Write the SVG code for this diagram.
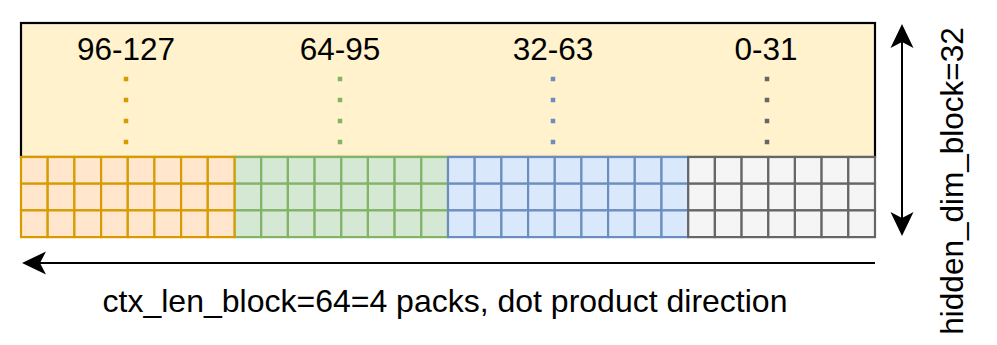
<svg xmlns="http://www.w3.org/2000/svg" width="997" height="345" viewBox="0 0 997 345">
  <style>
    .lbl { font-family: "Liberation Sans", Arial, sans-serif; font-size: 31.5px; fill: #000; }
    .big { font-size: 32px; }
    .mid { text-anchor: middle; }
    .cellO { fill: #ffe6cc; stroke: #d79b00; stroke-width: 2.2; }
    .cellG { fill: #d5e8d4; stroke: #82b366; stroke-width: 2.2; }
    .cellB { fill: #dae8fc; stroke: #6c8ebf; stroke-width: 2.2; }
    .cellY { fill: #f5f5f5; stroke: #666666; stroke-width: 2.2; }
    .dots { fill: none; stroke-width: 4.5; stroke-dasharray: 4.5 16.5; }
    .arrow { fill: none; stroke: #000; stroke-width: 2; }
  </style>
  <defs>
    <marker id="ah" markerUnits="userSpaceOnUse" markerWidth="24" markerHeight="24" viewBox="0 0 24 24" refX="6" refY="12" orient="auto-start-reverse">
      <path d="M24,12 L0,0.5 L6,12 L0,23.5 Z" fill="#000"/>
    </marker>
    <rect id="c" width="26.69" height="26.7"/>
  </defs>

  <rect width="997" height="345" fill="#fff"/>

  <g id="header-box">
    <rect x="21" y="23" width="854" height="134" fill="#fff2cc" stroke="#000" stroke-width="2.2"/>
  </g>

  <g id="label-96-127"><text class="lbl mid" x="126" y="60">96-127</text></g>
  <g id="label-64-95"><text class="lbl mid" x="340" y="60">64-95</text></g>
  <g id="label-32-63"><text class="lbl mid" x="553" y="60">32-63</text></g>
  <g id="label-0-31"><text class="lbl mid" x="766" y="60">0-31</text></g>

  <g id="pack-64-95">
    <g class="cellG">
      <use href="#c" x="234.5" y="157"/><use href="#c" x="261.2" y="157"/><use href="#c" x="287.9" y="157"/><use href="#c" x="314.6" y="157"/><use href="#c" x="341.3" y="157"/><use href="#c" x="367.9" y="157"/><use href="#c" x="394.6" y="157"/><use href="#c" x="421.3" y="157"/>
      <use href="#c" x="234.5" y="183.7"/><use href="#c" x="261.2" y="183.7"/><use href="#c" x="287.9" y="183.7"/><use href="#c" x="314.6" y="183.7"/><use href="#c" x="341.3" y="183.7"/><use href="#c" x="367.9" y="183.7"/><use href="#c" x="394.6" y="183.7"/><use href="#c" x="421.3" y="183.7"/>
      <use href="#c" x="234.5" y="210.4"/><use href="#c" x="261.2" y="210.4"/><use href="#c" x="287.9" y="210.4"/><use href="#c" x="314.6" y="210.4"/><use href="#c" x="341.3" y="210.4"/><use href="#c" x="367.9" y="210.4"/><use href="#c" x="394.6" y="210.4"/><use href="#c" x="421.3" y="210.4"/>
    </g>
  </g>

  <g id="pack-96-127">
    <g class="cellO">
      <use href="#c" x="21" y="157"/><use href="#c" x="47.7" y="157"/><use href="#c" x="74.4" y="157"/><use href="#c" x="101.1" y="157"/><use href="#c" x="127.8" y="157"/><use href="#c" x="154.4" y="157"/><use href="#c" x="181.1" y="157"/><use href="#c" x="207.8" y="157"/>
      <use href="#c" x="21" y="183.7"/><use href="#c" x="47.7" y="183.7"/><use href="#c" x="74.4" y="183.7"/><use href="#c" x="101.1" y="183.7"/><use href="#c" x="127.8" y="183.7"/><use href="#c" x="154.4" y="183.7"/><use href="#c" x="181.1" y="183.7"/><use href="#c" x="207.8" y="183.7"/>
      <use href="#c" x="21" y="210.4"/><use href="#c" x="47.7" y="210.4"/><use href="#c" x="74.4" y="210.4"/><use href="#c" x="101.1" y="210.4"/><use href="#c" x="127.8" y="210.4"/><use href="#c" x="154.4" y="210.4"/><use href="#c" x="181.1" y="210.4"/><use href="#c" x="207.8" y="210.4"/>
    </g>
  </g>

  <g id="pack-32-63">
    <g class="cellB">
      <use href="#c" x="448" y="157"/><use href="#c" x="474.7" y="157"/><use href="#c" x="501.4" y="157"/><use href="#c" x="528.1" y="157"/><use href="#c" x="554.8" y="157"/><use href="#c" x="581.4" y="157"/><use href="#c" x="608.1" y="157"/><use href="#c" x="634.8" y="157"/><use href="#c" x="661.5" y="157"/>
      <use href="#c" x="448" y="183.7"/><use href="#c" x="474.7" y="183.7"/><use href="#c" x="501.4" y="183.7"/><use href="#c" x="528.1" y="183.7"/><use href="#c" x="554.8" y="183.7"/><use href="#c" x="581.4" y="183.7"/><use href="#c" x="608.1" y="183.7"/><use href="#c" x="634.8" y="183.7"/><use href="#c" x="661.5" y="183.7"/>
      <use href="#c" x="448" y="210.4"/><use href="#c" x="474.7" y="210.4"/><use href="#c" x="501.4" y="210.4"/><use href="#c" x="528.1" y="210.4"/><use href="#c" x="554.8" y="210.4"/><use href="#c" x="581.4" y="210.4"/><use href="#c" x="608.1" y="210.4"/><use href="#c" x="634.8" y="210.4"/><use href="#c" x="661.5" y="210.4"/>
    </g>
  </g>

  <g id="pack-0-31">
    <g class="cellY">
      <use href="#c" x="688.2" y="157"/><use href="#c" x="714.9" y="157"/><use href="#c" x="741.6" y="157"/><use href="#c" x="768.3" y="157"/><use href="#c" x="794.9" y="157"/><use href="#c" x="821.6" y="157"/><use href="#c" x="848.3" y="157"/>
      <use href="#c" x="688.2" y="183.7"/><use href="#c" x="714.9" y="183.7"/><use href="#c" x="741.6" y="183.7"/><use href="#c" x="768.3" y="183.7"/><use href="#c" x="794.9" y="183.7"/><use href="#c" x="821.6" y="183.7"/><use href="#c" x="848.3" y="183.7"/>
      <use href="#c" x="688.2" y="210.4"/><use href="#c" x="714.9" y="210.4"/><use href="#c" x="741.6" y="210.4"/><use href="#c" x="768.3" y="210.4"/><use href="#c" x="794.9" y="210.4"/><use href="#c" x="821.6" y="210.4"/><use href="#c" x="848.3" y="210.4"/>
    </g>
  </g>

  <g id="connectors">
    <line class="dots" x1="126" y1="76.75" x2="126" y2="145" stroke="#d79b00"/>
    <line class="dots" x1="340" y1="76.75" x2="340" y2="145" stroke="#82b366"/>
    <line class="dots" x1="553" y1="76.75" x2="553" y2="145" stroke="#6c8ebf"/>
    <line class="dots" x1="767" y1="76.75" x2="767" y2="145" stroke="#666666"/>
    <line class="arrow" x1="902" y1="42" x2="902" y2="218" marker-start="url(#ah)" marker-end="url(#ah)"/>
    <line class="arrow" x1="875" y1="263" x2="40" y2="263" marker-end="url(#ah)"/>
  </g>

  <g id="label-hidden-dim">
    <text class="lbl mid" transform="translate(963,181) rotate(-90)">hidden_dim_block=32</text>
  </g>
  <g id="label-ctx-len">
    <text class="lbl big mid" x="445" y="312">ctx_len_block=64=4 packs, dot product direction</text>
  </g>
</svg>
